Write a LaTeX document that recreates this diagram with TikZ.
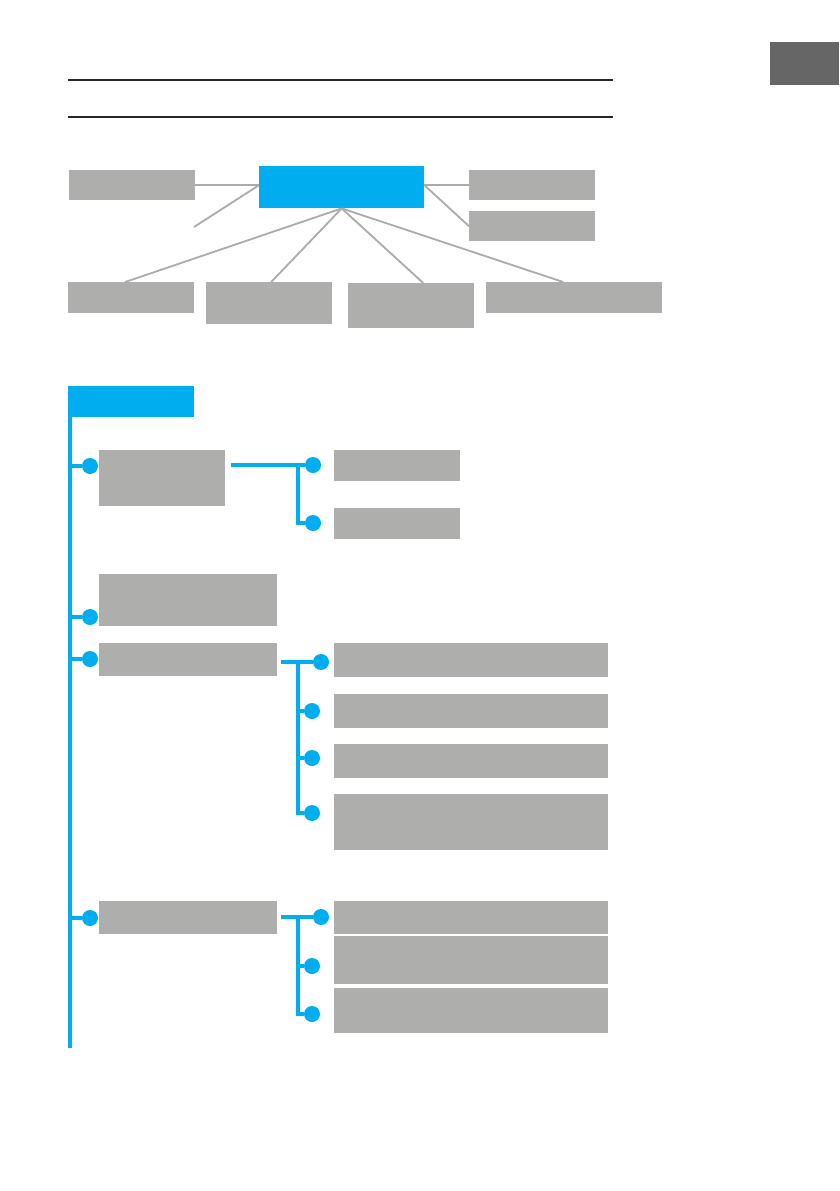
\documentclass[tikz,border=0pt]{standalone}
\usepackage{tikz}
\usetikzlibrary{positioning}

\definecolor{mcyan}{HTML}{00AEEF}
\definecolor{mgray}{HTML}{AEAEAD}
\definecolor{mline}{HTML}{ABABAB}
\definecolor{mtab}{HTML}{666666}

\begin{document}
\begin{tikzpicture}[
  x=1pt, y=-1pt,
  box/.style={fill=mgray, inner sep=0, anchor=north west},
  hubbox/.style={fill=mcyan, inner sep=0, anchor=north west},
  dot/.style={circle, fill=mcyan, inner sep=0, minimum size=16},
  link/.style={draw=mline, line width=1.8},
  branch/.style={draw=mcyan, line width=3.6, line join=miter},
  rule/.style={draw=black!85, line width=1.2}
]
\useasboundingbox (0,0) rectangle (839,1191);

% page furniture
\fill[mtab] (770,42) rectangle (839,85);
\draw[rule] (68,80) -- (613,80);
\draw[rule] (68,117) -- (613,117);

% overview
\node[hubbox, minimum width=165, minimum height=42] (hub) at (259,166) {};
\node[box, minimum width=126, minimum height=30] (left1) at (69,170) {};
\node[box, minimum width=126, minimum height=30] (right1) at (469,170) {};
\node[box, minimum width=126, minimum height=30] (right2) at (469,211) {};
\node[box, minimum width=126, minimum height=31] (low1) at (68,282) {};
\node[box, minimum width=126, minimum height=42] (low2) at (206,282) {};
\node[box, minimum width=126, minimum height=45] (low3) at (348,283) {};
\node[box, minimum width=176, minimum height=31] (low4) at (486,282) {};
\coordinate (loose) at (194,227);

\draw[link] (left1.east) -- (left1.east -| hub.west);
\draw[link] (left1.east -| hub.west) -- (loose);
\draw[link] (right1.west -| hub.east) -- (right1.west);
\draw[link] (right1.west -| hub.east) -- (right2.west);
\draw[link] (hub.south) -- ([xshift=-6]low1.north);
\draw[link] (hub.south) -- ([xshift=2]low2.north);
\draw[link] (hub.south) -- ([xshift=12]low3.north);
\draw[link] (hub.south) -- ([xshift=-11]low4.north);

% menu tree
\node[hubbox, minimum width=126, minimum height=31] (head) at (68,386) {};
\coordinate (spine) at (70,1048);
\coordinate (forkA) at (298,0);
\coordinate (forkC) at (298,0);

\node[box, minimum width=126, minimum height=56] (itemA) at (99,450) {};
\node[box, minimum width=178, minimum height=52] (itemB) at (99,574) {};
\node[box, minimum width=178, minimum height=33] (itemC) at (99,643) {};
\node[box, minimum width=178, minimum height=33] (itemD) at (99,901) {};

\node[box, minimum width=126, minimum height=31] (subA1) at (334,450) {};
\node[box, minimum width=126, minimum height=31] (subA2) at (334,508) {};

\node[box, minimum width=274, minimum height=34] (subC1) at (334,643) {};
\node[box, minimum width=274, minimum height=34] (subC2) at (334,694) {};
\node[box, minimum width=274, minimum height=34] (subC3) at (334,744) {};
\node[box, minimum width=274, minimum height=56] (subC4) at (334,794) {};

\node[box, minimum width=274, minimum height=33] (subD1) at (334,901) {};
\node[box, minimum width=274, minimum height=48] (subD2) at (334,936) {};
\node[box, minimum width=274, minimum height=45] (subD3) at (334,988) {};

\draw[branch] ([xshift=2]head.south west) -- (spine);

\node[dot] (dotA) at (90,466) {};
\node[dot] (dotB) at (90,617) {};
\node[dot] (dotC) at (90,659) {};
\node[dot] (dotD) at (90,918) {};
\foreach \n in {A,B,C,D}
  \draw[branch] (dot\n -| spine) -- (dot\n);

\node[dot] (dotA1) at (313,465) {};
\node[dot] (dotA2) at (313,523) {};
\draw[branch] ([xshift=6]itemA.east |- dotA1) -- (dotA1);
\draw[branch] (dotA1 -| forkA) |- (dotA2);

\node[dot] (dotC1) at (321,662) {};
\node[dot] (dotC2) at (312,711) {};
\node[dot] (dotC3) at (312,758) {};
\node[dot] (dotC4) at (312,813) {};
\draw[branch] ([xshift=4]itemC.east |- dotC1) -- (dotC1);
\draw[branch] (dotC1 -| forkC) |- (dotC4);
\draw[branch] (dotC2 -| forkC) -- (dotC2);
\draw[branch] (dotC3 -| forkC) -- (dotC3);

\node[dot] (dotD1) at (321,917) {};
\node[dot] (dotD2) at (312,966) {};
\node[dot] (dotD3) at (312,1014) {};
\draw[branch] ([xshift=4]itemD.east |- dotD1) -- (dotD1);
\draw[branch] (dotD1 -| forkC) |- (dotD3);
\draw[branch] (dotD2 -| forkC) -- (dotD2);
\end{tikzpicture}
\end{document}
